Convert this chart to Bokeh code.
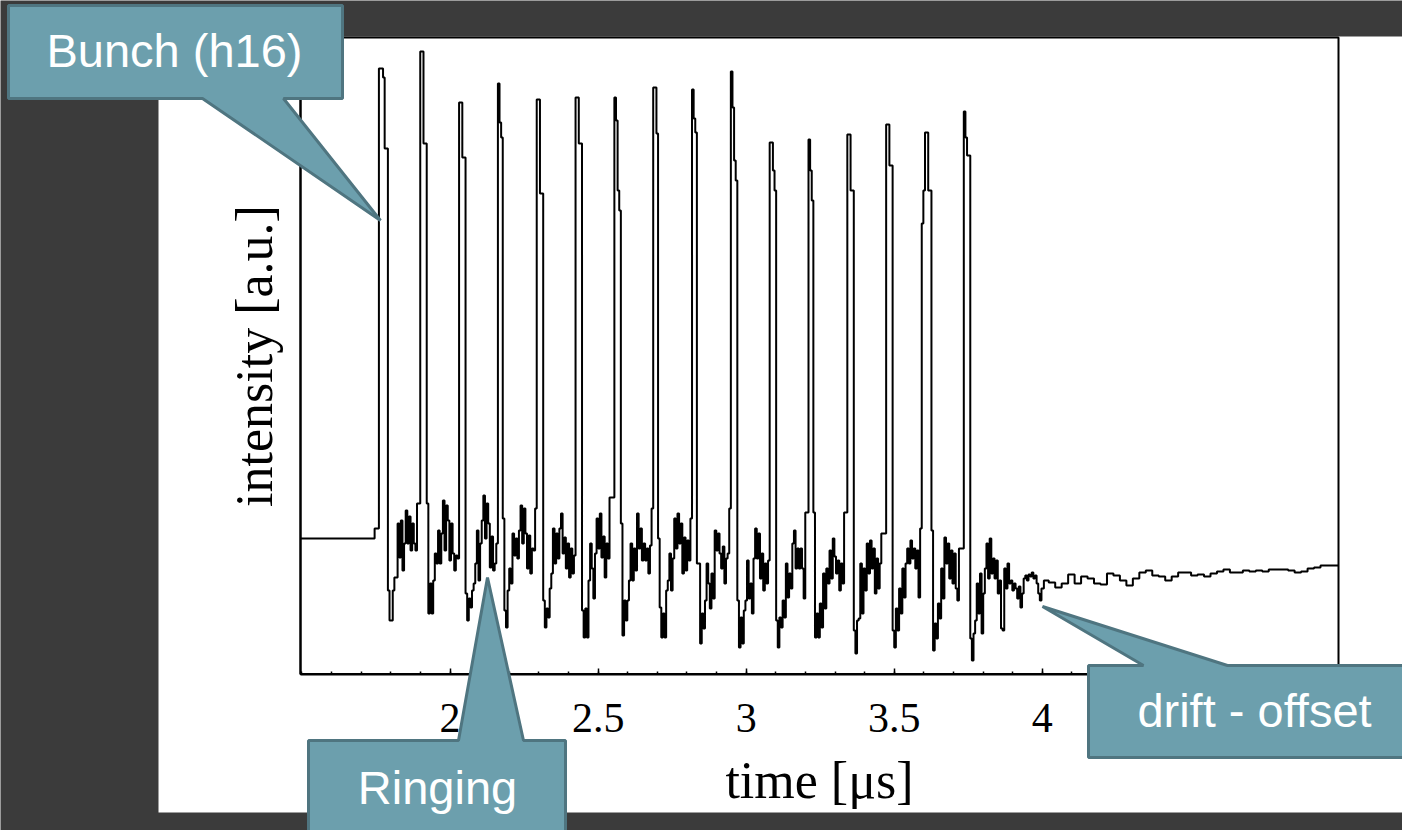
from bokeh.plotting import figure
from bokeh.models import (Range1d, FixedTicker, BoxAnnotation, PolyAnnotation,
                          Label, LinearAxis, ColumnDataSource)
from bokeh.embed import file_html
from bokeh.resources import INLINE

# ---------------------------------------------------------------------------
# Pick-up trace of a bunched beam (harmonic 16), intensity in arbitrary units
# ---------------------------------------------------------------------------

# flat pre-trigger baseline
baseline_t = [1.495, 1.742, 1.7485]
baseline_v = [0.00, 0.00, 0.10]

# bunch train: 24 samples per RF period, first sample on the first bunch peak
first_bunch_t = 1.771      # µs
bunch_period = 0.1311      # µs
samples_per_bunch = 24

bunch_1 = [4.70, 4.61, 3.90, 3.90, -0.52, -0.82, -0.82, -0.52, -0.39, -0.39, 0.15, -0.19,
           0.18, -0.32, -0.05, 0.28, -0.05, 0.22, -0.12, 0.15, -0.05, -0.12, 0.35, 0.35]
bunch_2 = [4.87, 4.87, 3.95, 3.95, 0.35, -0.75, -0.45, -0.75, -0.42, -0.15, -0.25, 0.08,
           -0.25, 0.05, 0.38, -0.12, 0.33, 0.18, -0.22, 0.15, -0.15, -0.32, -0.17, -0.20]
bunch_3 = [4.36, 4.36, 3.81, 3.81, -0.55, -0.82, -0.60, -0.69, -0.52, -0.45, -0.25, 0.08,
           -0.42, -0.05, 0.18, 0.43, 0.00, 0.35, 0.15, -0.29, 0.02, -0.32, -0.25, -0.05]
bunch_4 = [4.55, 4.16, 4.01, 0.20, -0.72, -0.89, -0.52, -0.30, -0.45, 0.05, -0.17, 0.00,
           -0.20, 0.08, 0.33, -0.05, 0.30, 0.05, -0.30, 0.03, -0.35, -0.10, -0.12, 0.30]
bunch_5 = [4.39, 4.39, 3.45, 3.45, -0.62, -0.89, -0.70, -0.79, -0.50, -0.35, 0.10, -0.25,
           0.05, -0.20, 0.10, 0.25, -0.15, 0.01, -0.30, -0.05, -0.39, -0.10, -0.35, -0.17]
bunch_6 = [4.41, 4.41, 3.95, 3.95, -0.72, -0.99, -0.70, -0.99, -0.42, -0.05, -0.30, -0.60,
           -0.15, 0.20, -0.10, 0.25, -0.19, 0.02, -0.39, -0.05, -0.20, 0.41, 0.41, 0.41]
bunch_7 = [4.41, 4.18, 3.48, 3.28, 0.15, -0.97, -0.62, -0.82, -0.62, -0.42, -0.05, -0.42,
           -0.10, -0.32, 0.25, -0.10, 0.10, -0.22, -0.05, -0.22, -0.10, -0.35, -0.07, 0.30]
bunch_8 = [4.51, 4.51, 4.05, 0.00, -0.69, -0.99, -0.75, -0.99, -0.52, -0.42, -0.15, -0.52,
           -0.20, 0.20, -0.10, 0.25, -0.05, 0.15, -0.35, 0.01, -0.32, -0.02, -0.22, 0.20]
bunch_9 = [4.49, 4.20, 4.06, -0.25, -0.25, -1.05, -0.75, -0.90, -0.62, -0.25, -0.45, -0.70,
           -0.35, -0.60, 0.08, -0.12, 0.05, -0.15, -0.30, -0.08, -0.45, -0.20, -0.15, 0.30]
bunch_10 = [4.67, 4.31, 3.78, 3.58, -0.62, -1.09, -0.79, -1.05, -0.72, -0.62, -0.22, -0.60,
            -0.45, -0.75, -0.20, 0.10, -0.20, 0.05, -0.40, -0.15, -0.52, -0.25, -0.45, -0.22]
bunch_11 = [3.96, 3.96, 3.68, 3.48, -0.82, -1.09, -0.79, -0.89, -0.62, -0.79, -0.25, -0.59,
            -0.35, -0.50, -0.05, 0.08, -0.30, -0.10, -0.30, -0.10, -0.30, -0.60, 0.26, 0.26]
bunch_12 = [3.99, 3.68, 3.38, 0.26, -0.99, -0.75, -0.99, -0.65, -0.89, -0.35, -0.70, -0.30,
            -0.45, -0.12, -0.40, 0.00, -0.18, -0.35, -0.22, -0.52, -0.25, -0.45, 0.26, 0.26]
bunch_13 = [4.04, 4.04, 3.48, 3.48, -0.92, -1.15, -0.82, -0.80, -0.25, -0.75, -0.30, -0.52,
            -0.05, -0.35, -0.02, -0.30, -0.10, -0.55, -0.20, -0.50, -0.25, 0.05, 0.05, 0.05]
bunch_14 = [4.14, 4.14, 3.73, 3.73, -0.92, -1.09, -0.70, -0.92, -0.50, -0.75, -0.30, -0.59,
            -0.25, -0.10, -0.25, -0.02, -0.20, -0.10, -0.30, -0.12, -0.59, 0.10, 3.15, 3.48]
bunch_15 = [4.06, 4.06, 3.48, 3.48, 0.08, -1.12, -0.85, -1.00, -0.65, -0.80, -0.30, -0.60,
            0.01, -0.25, -0.05, -0.40, -0.12, -0.45, -0.15, -0.50, -0.62, -0.10, -0.10, -0.10]
bunch_16 = [4.27, 4.01, 3.83, 3.83, -1.00, -1.22, -0.95, -0.82, -0.45, -0.75, -0.35, -0.95,
            -0.55, -0.30, -0.05, -0.40, 0.00, -0.35, -0.20, -0.40, -0.22, -0.55, -0.42, -0.90]
bunches = [bunch_1, bunch_2, bunch_3, bunch_4, bunch_5, bunch_6, bunch_7, bunch_8,
           bunch_9, bunch_10, bunch_11, bunch_12, bunch_13, bunch_14, bunch_15, bunch_16]

# ringing that dies out after the last bunch (same sampling)
decay_v = [-0.92, -0.30, -0.50, -0.25, -0.45, -0.42, -0.52, -0.45, -0.50, -0.60,
           -0.48, -0.69, -0.55, -0.40, -0.37, -0.42, -0.36, -0.38, -0.34, -0.40,
           -0.37, -0.45, -0.55, -0.62, -0.50]

# slowly drifting offset afterwards (every fourth sample)
tail_v = [-0.42, -0.44, -0.49, -0.45, -0.36, -0.45, -0.38, -0.40, -0.45, -0.46,
          -0.35, -0.37, -0.42, -0.47, -0.40, -0.34, -0.32, -0.37, -0.38, -0.42,
          -0.38, -0.34, -0.34, -0.37, -0.36, -0.38, -0.35, -0.33, -0.31, -0.34,
          -0.34, -0.32, -0.33, -0.32, -0.33, -0.31, -0.31, -0.31, -0.32, -0.34,
          -0.33, -0.30, -0.29, -0.27, -0.27]
record_end_t = 5.0

# axis extents and ticks
time_span = (1.495, 5.0)
intensity_span = (-1.355, 5.01)
tick_values = [2, 2.5, 3, 3.5, 4]
tick_labels = ["2", "2.5", "3", "3.5", "4"]
minor_tick_values = [1.5, 1.6, 1.7, 1.8, 1.9, 2.0, 2.1, 2.2, 2.3, 2.4, 2.5, 2.6,
                     2.7, 2.8, 2.9, 3.0, 3.1, 3.2, 3.3, 3.4, 3.5, 3.6, 3.7, 3.8,
                     3.9, 4.0, 4.1, 4.2, 4.3, 4.4, 4.5, 4.6, 4.7, 4.8, 4.9, 5.0]

# ---------------------------------------------------------------------------
# assemble the sampled trace
# ---------------------------------------------------------------------------
dt = bunch_period / samples_per_bunch
t = list(baseline_t)
v = list(baseline_v)
idx = 0
for row in bunches:
    for val in row:
        t.append(first_bunch_t + idx * dt)
        v.append(val)
        idx += 1
for val in decay_v:
    t.append(first_bunch_t + idx * dt)
    v.append(val)
    idx += 1
idx += 1
for val in tail_v:
    t.append(first_bunch_t + idx * dt)
    v.append(val)
    idx += 4
t.append(record_end_t)
v.append(tail_v[-1])

src = ColumnDataSource(data=dict(t=t, v=v))

# ---------------------------------------------------------------------------
# figure: the plotting frame fills the whole canvas so that the sheet and the
# call-outs can be laid out in canvas pixels; the axes sit at fixed locations
# ---------------------------------------------------------------------------
DARK = "#3b3b3b"
TEAL = "#6c9fad"
TEAL_EDGE = "#4f7580"
SERIF = "Liberation Serif"
SANS = "Liberation Sans"

W, H = 1402, 830
FRAME_L, FRAME_R, FRAME_T, FRAME_B = 300, 1338, 37, 673.5
kx = (FRAME_R - FRAME_L) / (time_span[1] - time_span[0])
ky = (FRAME_B - FRAME_T) / (intensity_span[1] - intensity_span[0])
x_view = Range1d(time_span[0] - FRAME_L / kx, time_span[1] + (W - FRAME_R) / kx)
y_view = Range1d(intensity_span[0] - (H - FRAME_B) / ky, intensity_span[1] + FRAME_T / ky)

p = figure(width=W, height=H, x_range=x_view, y_range=y_view,
           output_backend="svg", toolbar_location=None,
           x_axis_location=None, y_axis_location=None, min_border=0)
p.border_fill_color = DARK
p.background_fill_color = DARK
p.outline_line_color = None
p.grid.visible = False

# white sheet behind the chart
p.add_layout(BoxAnnotation(left=158, right=W, top=36, bottom=812,
                           left_units="canvas", right_units="canvas",
                           top_units="canvas", bottom_units="canvas",
                           fill_color="white", fill_alpha=1.0,
                           line_alpha=0.0, level="underlay"))

p.step("t", "v", source=src, mode="center", line_color="black", line_width=2)

# chart box
p.add_layout(BoxAnnotation(left=time_span[0], right=time_span[1],
                           bottom=intensity_span[0], top=intensity_span[1],
                           fill_alpha=0.0, line_color="black", line_alpha=1.0,
                           line_width=2, level="annotation"))

xa = LinearAxis(fixed_location=intensity_span[0], bounds=time_span,
                ticker=FixedTicker(ticks=tick_values, minor_ticks=minor_tick_values))
xa.major_label_overrides = dict(zip(tick_values, tick_labels))
xa.axis_line_width = 2
xa.major_tick_in = 6
xa.major_tick_out = 0
xa.minor_tick_in = 3
xa.minor_tick_out = 0
xa.major_tick_line_width = 1.5
xa.minor_tick_line_width = 1.5
xa.major_label_standoff = 30
xa.major_label_text_font = SERIF
xa.major_label_text_font_size = "42px"
xa.major_label_text_color = "black"
xa.axis_label = "time [μs]"
xa.axis_label_text_font = SERIF
xa.axis_label_text_font_style = "normal"
xa.axis_label_text_font_size = "52px"
xa.axis_label_text_color = "black"
xa.axis_label_standoff = 16
p.add_layout(xa, "below")

ya = LinearAxis(fixed_location=time_span[0], bounds=intensity_span,
                ticker=FixedTicker(ticks=[], minor_ticks=[]))
ya.axis_line_width = 2
ya.major_tick_out = 0
ya.major_tick_in = 0
ya.minor_tick_out = 0
ya.minor_tick_in = 0
ya.major_label_standoff = 0
ya.axis_label = "intensity [a.u.]"
ya.axis_label_text_font = SERIF
ya.axis_label_text_font_style = "normal"
ya.axis_label_text_font_size = "52px"
ya.axis_label_text_color = "black"
ya.axis_label_standoff = 18
p.add_layout(ya, "left")

# ---------------------------------------------------------------------------
# call-outs
# ---------------------------------------------------------------------------
callouts = [
    ([8, 342, 342, 283, 380, 202, 8], [5, 5, 98, 98, 220, 98, 98]),
    ([308, 458, 487, 523, 565, 565, 308], [740, 740, 577, 740, 740, 834, 834]),
    ([1088, 1143, 1042, 1227, 1406, 1406, 1088], [665, 665, 606, 665, 665, 757, 757]),
]
for xs, ys in callouts:
    p.add_layout(PolyAnnotation(xs=xs, ys=ys, xs_units="canvas", ys_units="canvas",
                                fill_color=TEAL, fill_alpha=1.0,
                                line_color=TEAL_EDGE, line_alpha=1.0, line_width=3,
                                level="overlay"))

for text, x, y in [("Bunch (h16)", 174, 50), ("Ringing", 437, 787),
                   ("drift - offset", 1254, 710)]:
    p.add_layout(Label(x=x, y=y, x_units="canvas", y_units="canvas", text=text,
                       text_align="center", text_baseline="alphabetic",
                       text_color="white", text_font=SANS,
                       text_font_size="47px", level="overlay"))

open("out.html", "w").write(file_html(p, INLINE))
